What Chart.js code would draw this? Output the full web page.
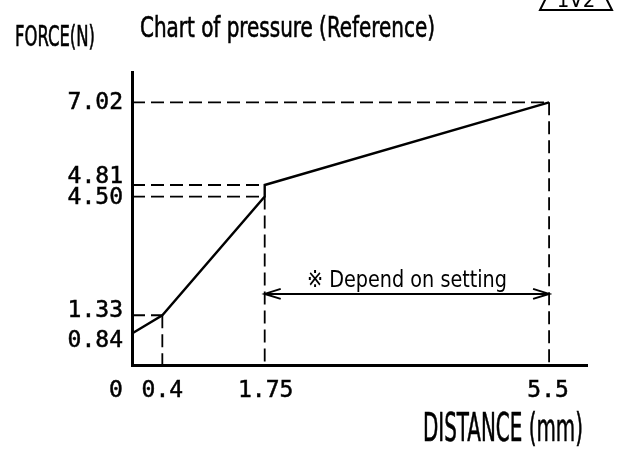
<!DOCTYPE html>
<html>
<head>
<meta charset="utf-8">
<script src="https://cdn.jsdelivr.net/npm/chart.js@4.4.1/dist/chart.umd.min.js"></script>
<style>
  html, body { margin: 0; padding: 0; background: #fff; }
  #wrap { width: 636px; height: 449px; position: relative; }
</style>
</head>
<body>
<div id="wrap"><canvas id="pressureChart"></canvas></div>
<script>
// curve points (mm, N)
const distance = [0, 0.4, 1.75, 1.75, 5.5];
const force = [0.84, 1.33, 4.50, 4.81, 7.02];

// tick labels
const xTicks = [0, 0.4, 1.75, 5.5];
const xTickLabels = ["0", "0.4", "1.75", "5.5"];
const yTicks = [0.84, 1.33, 4.50, 4.81, 7.02];
const yTickLabels = ["0.84", "1.33", "4.50", "4.81", "7.02"];

// dashed guide lines: horizontal ones go from the axis to the point,
// vertical ones go from the point down to the axis
const hGuideX = [0.4, 1.75, 1.75, 5.5];
const hGuideY = [1.33, 4.50, 4.81, 7.02];
const vGuideX = [0.4, 1.75, 5.5];
const vGuideY = [1.33, 4.50, 7.02];

// "depend on setting" range
const settingRange = [1.75, 5.5];
const settingLevel = 1.90;

const X_MAX = 6.0;
const Y_MAX = 7.83;

const NARROW = "'Liberation Sans Narrow', 'DejaVu Sans Condensed', sans-serif";
const MONO = "'DejaVu Sans Mono', monospace";

// label nudges so close labels do not run into each other
const yLabelShift = [6, -5.5, 0.5, -8.5, 0];
const xLabelShift = [-16, 0, 1, -1];

function fitText(ctx, str, x, y, size, width, family, weight) {
  ctx.font = `${size}px ${family}`;
  const w = ctx.measureText(str).width;
  ctx.save();
  ctx.translate(x, y);
  ctx.scale(width / w, 1);
  ctx.textAlign = "left";
  ctx.textBaseline = "alphabetic";
  ctx.fillText(str, 0, 0);
  if (weight) {
    ctx.lineWidth = weight;
    ctx.strokeText(str, 0, 0);
  }
  ctx.restore();
}

const guideStyle = {
  borderColor: "#000",
  borderWidth: 1.8,
  borderDash: [13, 6],
  pointRadius: 0,
  showLine: true,
  clip: false
};

const datasets = [
  {
    label: "Force",
    data: distance.map((d, i) => ({ x: d, y: force[i] })),
    borderColor: "#000",
    borderWidth: 2.4,
    pointRadius: 0,
    showLine: true,
    clip: false
  },
  {
    label: "setting",
    data: settingRange.map(d => ({ x: d, y: settingLevel })),
    borderColor: "#000",
    borderWidth: 2,
    pointRadius: 0,
    showLine: true,
    clip: false
  }
];

hGuideX.forEach((d, i) => {
  datasets.push({ ...guideStyle, label: "h" + i, data: [{ x: 0, y: hGuideY[i] }, { x: d, y: hGuideY[i] }] });
});
vGuideX.forEach((d, i) => {
  datasets.push({ ...guideStyle, label: "v" + i, data: [{ x: d, y: vGuideY[i] }, { x: d, y: 0 }] });
});

const drawingText = {
  id: "drawingText",
  afterDraw(chart) {
    const ctx = chart.ctx;
    const xs = chart.scales.x;
    const ys = chart.scales.y;
    ctx.save();
    ctx.fillStyle = "#000";
    ctx.strokeStyle = "#000";

    // tick labels
    ctx.font = `23px ${MONO}`;
    ctx.lineWidth = 0.5;
    ctx.textAlign = "right";
    ctx.textBaseline = "middle";
    yTicks.forEach((v, i) => {
      const py = ys.getPixelForValue(v) + yLabelShift[i] + 1;
      ctx.fillText(yTickLabels[i], xs.left - 9, py);
      ctx.strokeText(yTickLabels[i], xs.left - 9, py);
    });
    ctx.textAlign = "center";
    xTicks.forEach((v, i) => {
      const px = xs.getPixelForValue(v) + xLabelShift[i];
      ctx.fillText(xTickLabels[i], px, ys.bottom + 26);
      ctx.strokeText(xTickLabels[i], px, ys.bottom + 26);
    });

    // titles
    fitText(ctx, "FORCE(N)", 15, 46, 29, 80, NARROW, 0.6);
    fitText(ctx, "Chart of pressure (Reference)", 140, 37, 29, 295, NARROW, 0.6);
    fitText(ctx, "DISTANCE (mm)", 423, 441, 39, 160, NARROW, 0.6);
    fitText(ctx, "\u203B Depend on setting", 307, 287, 23, 200, NARROW, 0);

    // arrow heads of the setting range
    const ay = ys.getPixelForValue(settingLevel);
    const a0 = xs.getPixelForValue(settingRange[0]);
    const a1 = xs.getPixelForValue(settingRange[1]);
    ctx.lineWidth = 2;
    ctx.beginPath();
    ctx.moveTo(a0 + 16, ay - 5);
    ctx.lineTo(a0, ay);
    ctx.lineTo(a0 + 16, ay + 5);
    ctx.moveTo(a1 - 16, ay - 5);
    ctx.lineTo(a1, ay);
    ctx.lineTo(a1 - 16, ay + 5);
    ctx.stroke();

    // revision triangle, cut by the top edge
    ctx.lineWidth = 2;
    ctx.beginPath();
    ctx.moveTo(540, 10);
    ctx.lineTo(612, 10);
    ctx.lineTo(576, -62);
    ctx.closePath();
    ctx.stroke();
    ctx.font = `22px ${NARROW}`;
    ctx.textAlign = "center";
    ctx.textBaseline = "alphabetic";
    ctx.fillText("1V2", 576, 7);

    ctx.restore();
  }
};

new Chart(document.getElementById("pressureChart"), {
  type: "scatter",
  data: { datasets: datasets },
  options: {
    responsive: true,
    maintainAspectRatio: false,
    animation: false,
    layout: {
      padding: { left: 132, top: 72, right: 49, bottom: 84 }
    },
    plugins: {
      legend: { display: false },
      tooltip: { enabled: false },
      title: { display: false }
    },
    scales: {
      x: {
        type: "linear",
        min: 0,
        max: X_MAX,
        grid: { display: false },
        ticks: { display: false },
        border: { display: true, color: "#000", width: 3 },
        afterFit(scale) { scale.height = 0; }
      },
      y: {
        type: "linear",
        min: 0,
        max: Y_MAX,
        grid: { display: false },
        ticks: { display: false },
        border: { display: true, color: "#000", width: 3 },
        afterFit(scale) { scale.width = 0; }
      }
    }
  },
  plugins: [drawingText]
});
</script>
</body>
</html>
